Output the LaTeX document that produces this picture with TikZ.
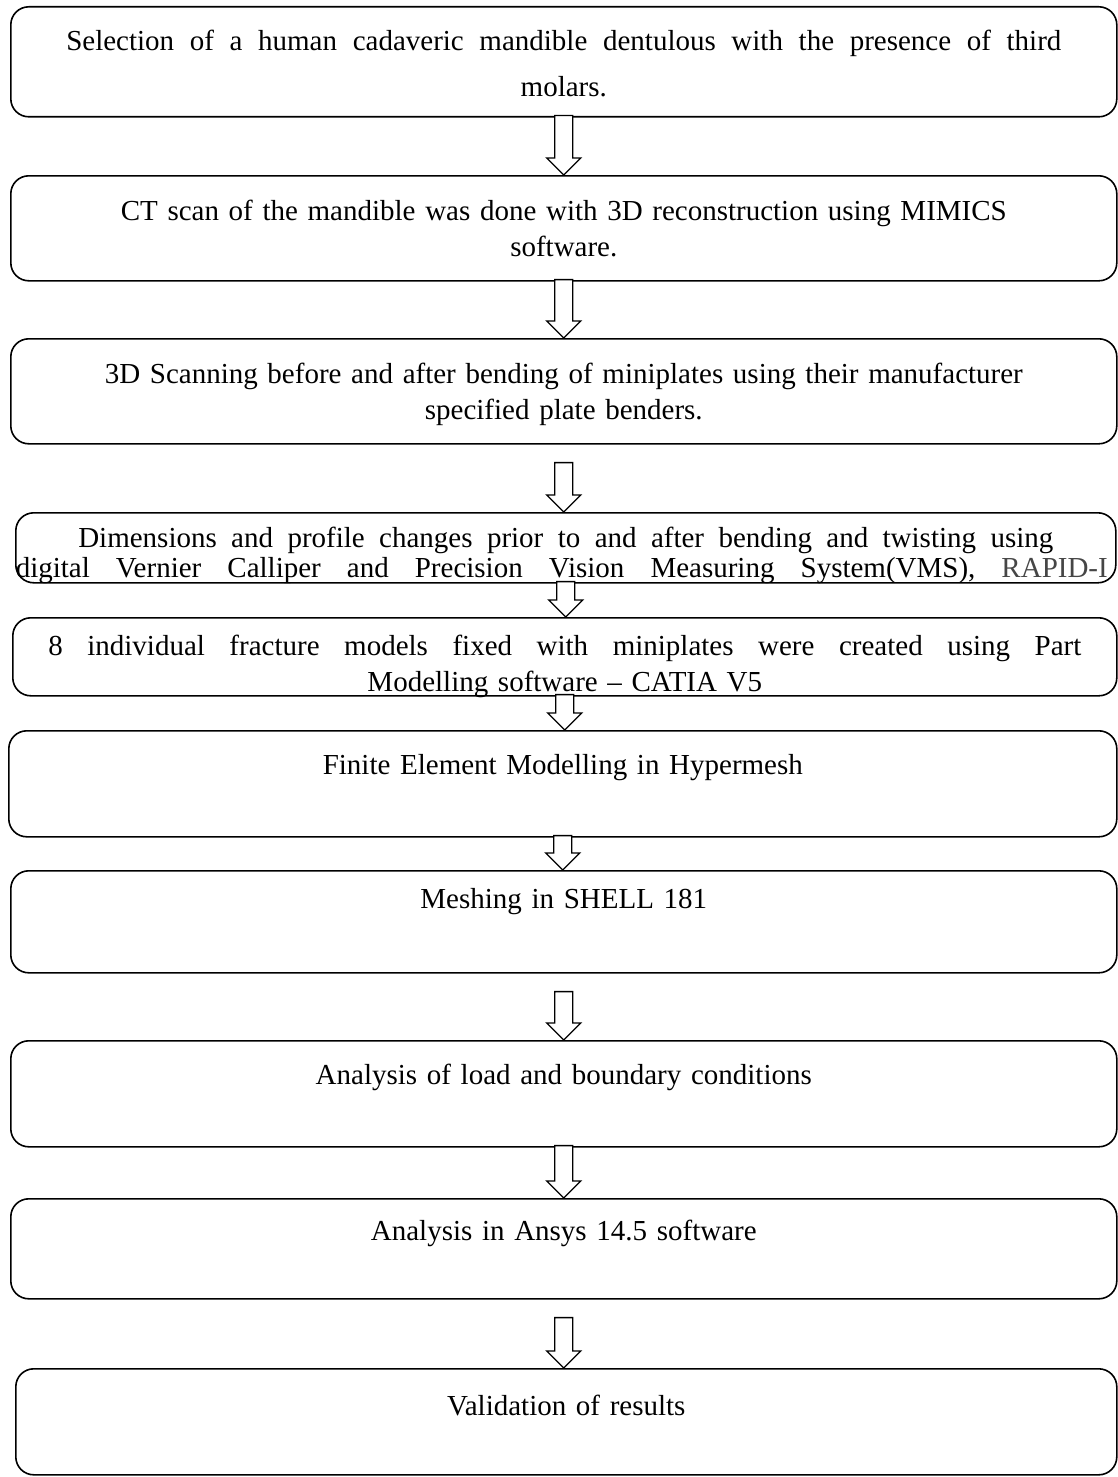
\documentclass[tikz,border=0pt]{standalone}
\usepackage{fontspec}
\setmainfont{Liberation Serif}
\usepackage{xcolor}
\definecolor{rapidgray}{RGB}{70,70,70}
\usetikzlibrary{calc,positioning}

% hollow block arrow from #1 down to #2
\newcommand{\flowarrow}[2]{%
  \coordinate (tip) at (#2 -| #1);
  \draw[blockarrow] ($(#1)+(-9,-2)$) -- ($(tip)+(-9,-17)$) -- ($(tip)+(-17,-17)$) -- (tip)
    -- ($(tip)+(17,-17)$) -- ($(tip)+(9,-17)$) -- ($(#1)+(9,-2)$) -- cycle;
}
% justified line of a given width
\newcommand{\spreadline}[2]{\hbox to #1{\spaceskip=0.25em plus 1fil\relax #2}}

\begin{document}
\begin{tikzpicture}[
  x=1pt,y=-1pt,
  stepbox/.style={draw,rounded corners=18pt,line width=1.6pt,anchor=north west,inner sep=0pt},
  steptext/.style={anchor=north,text width=1100pt,align=center,inner sep=0pt,font=\fontsize{29}{36}\selectfont},
  blockarrow/.style={draw,fill=white,line width=1.3pt,line join=miter}
]
  \useasboundingbox (0,0) rectangle (1117,1477);

  \node[stepbox,minimum width=1106pt,minimum height=110pt] (s1) at (10,6) {};
  \node[stepbox,minimum width=1106pt,minimum height=105pt] (s2) at (10,175) {};
  \node[stepbox,minimum width=1106pt,minimum height=105pt] (s3) at (10,338) {};
  \node[stepbox,minimum width=1100pt,minimum height=70pt] (s4) at (15,512) {};
  \node[stepbox,minimum width=1104pt,minimum height=78pt] (s5) at (12,617) {};
  \node[stepbox,minimum width=1108pt,minimum height=106pt] (s6) at (8,730) {};
  \node[stepbox,minimum width=1106pt,minimum height=102pt] (s7) at (10,870) {};
  \node[stepbox,minimum width=1106pt,minimum height=106pt] (s8) at (10,1040) {};
  \node[stepbox,minimum width=1106pt,minimum height=100pt] (s9) at (10,1198) {};
  \node[stepbox,minimum width=1101pt,minimum height=106pt] (s10) at (15,1368) {};

  \node[steptext,font=\fontsize{29}{46}\selectfont] (t1) at ($(s1.north)+(0,24)$) {\spreadline{995pt}{Selection of a human cadaveric mandible dentulous with the presence of third}\\molars.};
  \node[steptext] (t2) at ($(s2.north)+(0,25)$) {CT scan of the mandible was done with 3D reconstruction using MIMICS\\software.};
  \node[steptext] (t3) at ($(s3.north)+(0,25)$) {3D Scanning before and after bending of miniplates using their manufacturer\\specified plate benders.};
  \node[steptext,font=\fontsize{29}{30}\selectfont] (t4) at ($(s4.north)+(0,15)$) {\spreadline{975pt}{Dimensions and profile changes prior to and after bending and twisting using}\\\spreadline{1092pt}{digital Vernier Calliper and Precision Vision Measuring System(VMS), \textcolor{rapidgray}{RAPID-I}}};
  \node[steptext] (t5) at ($(s5.north)+(0,18)$) {\spreadline{1033pt}{8 individual fracture models fixed with miniplates were created using Part}\\Modelling software \textendash{} CATIA V5};
  \node[steptext] (t6) at ($(s6.north)+(0,24)$) {Finite Element Modelling in Hypermesh};
  \node[steptext] (t7) at ($(s7.north)+(0,18)$) {Meshing in SHELL 181};
  \node[steptext] (t8) at ($(s8.north)+(0,24)$) {Analysis of load and boundary conditions};
  \node[steptext] (t9) at ($(s9.north)+(0,22)$) {Analysis in Ansys 14.5 software};
  \node[steptext] (t10) at ($(s10.north)+(0,27)$) {Validation of results};

  \coordinate (g3) at ($(s3.south)+(0,20)$);
  \coordinate (g7) at ($(s7.south)+(0,20)$);
  \coordinate (g9) at ($(s9.south)+(0,20)$);

  \flowarrow{s1.south}{s2.north}
  \flowarrow{s2.south}{s3.north}
  \flowarrow{g3}{s4.north}
  \flowarrow{s4.south}{s5.north}
  \flowarrow{s5.south}{s6.north}
  \flowarrow{s6.south}{s7.north}
  \flowarrow{g7}{s8.north}
  \flowarrow{s8.south}{s9.north}
  \flowarrow{g9}{s10.north}
\end{tikzpicture}
\end{document}
